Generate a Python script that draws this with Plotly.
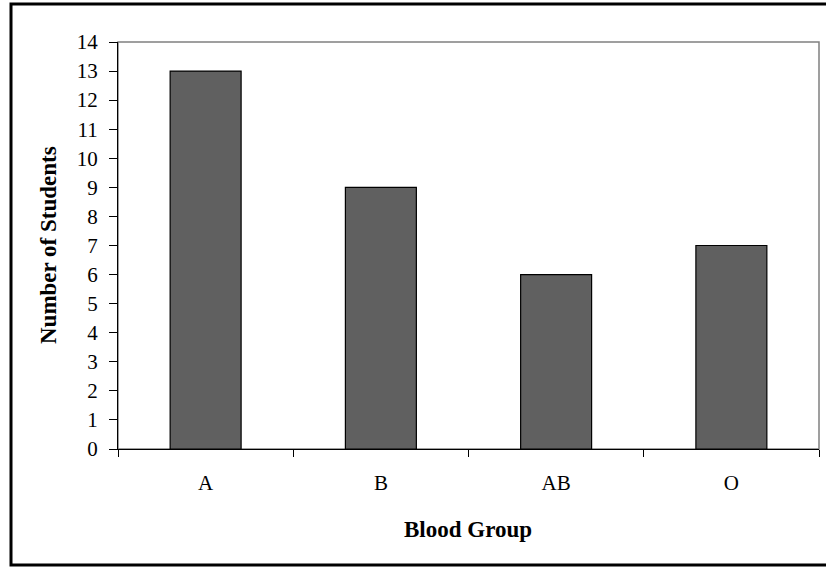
import plotly.graph_objects as go

categories = ["A", "B", "AB", "O"]
students = [13, 9, 6, 7]
y_ticks = list(range(0, 15))

W, H = 826, 567
L, R, T, B = 118, 7, 42, 118
pw, ph = W - L - R, H - T - B

def px(x):
    return (x - L) / pw

def py(y):
    return (H - B - y) / ph

fig = go.Figure(go.Bar(
    x=categories, y=students,
    marker=dict(color="#606060", line=dict(color="#000000", width=1.2)),
    width=0.405,
))

font = "Liberation Serif, Times New Roman, serif"

fig.update_layout(
    width=W, height=H,
    margin=dict(l=L, r=R, t=T, b=B),
    paper_bgcolor="white", plot_bgcolor="white",
    showlegend=False,
    font=dict(family=font, size=21, color="black"),
    xaxis=dict(
        range=[-0.5, 3.5], showgrid=False, zeroline=False,
        showline=True, linecolor="black", linewidth=1.2,
        ticks="outside", tickson="boundaries", ticklen=7, tickcolor="black",
        tickwidth=1.2, tickfont=dict(family=font, size=21, color="black"),
        ticklabelstandoff=15,
    ),
    yaxis=dict(
        range=[0, 14], tickvals=y_ticks, showgrid=False, zeroline=False,
        showline=True, linecolor="black", linewidth=1.2,
        ticks="outside", ticklen=8, tickcolor="black", tickwidth=1.2,
        tickfont=dict(family=font, size=21, color="black"),
        ticklabelstandoff=7,
    ),
    shapes=[
        dict(type="rect", xref="paper", yref="paper", x0=0, x1=1, y0=0, y1=1,
             line=dict(color="#808080", width=1.5), layer="below"),
        dict(type="rect", xref="paper", yref="paper",
             x0=px(11), x1=px(830), y0=py(565), y1=py(4),
             line=dict(color="black", width=3), layer="below"),
    ],
    annotations=[
        dict(text="<b>Blood Group</b>", xref="paper", yref="paper",
             x=px(468), y=py(529), showarrow=False, xanchor="center", yanchor="middle",
             font=dict(family=font, size=23, color="black")),
        dict(text="<b>Number of Students</b>", xref="paper", yref="paper",
             x=px(49), y=py(245), showarrow=False, xanchor="center", yanchor="middle",
             textangle=-90, font=dict(family=font, size=23, color="black")),
    ],
)

fig.write_html("out.html")
